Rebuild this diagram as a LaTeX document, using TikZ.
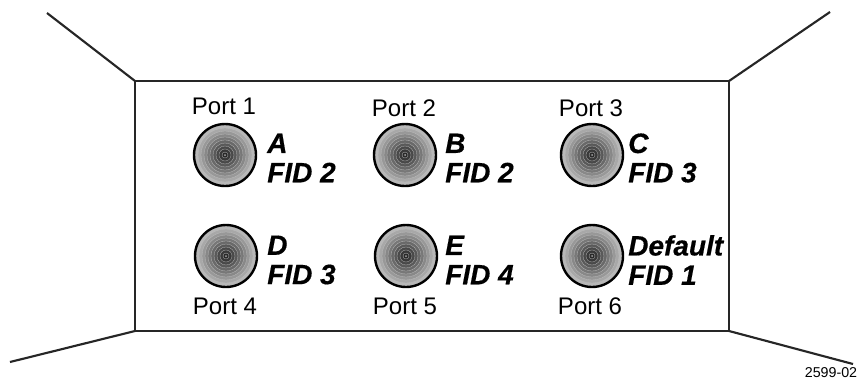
\documentclass[tikz,border=0pt]{standalone}
\usepackage{fontspec}
\setmainfont{Liberation Sans}[BoldItalicFeatures={FakeBold=0.5}]
\tikzset{>=stealth}
\tikzset{portname/.style={inner sep=0pt, font=\fontsize{18}{20}\selectfont},
    fidname/.style={inner sep=0pt, align=left, font=\fontsize{21}{22}\selectfont\bfseries\itshape},
    wall/.style={line width=1.6pt, black!85},
    discrim/.style={circle, draw, line width=1.8pt, minimum size=46.5pt, inner sep=0pt}}
\newcommand{\portdisc}[2]{%
    \foreach \r in {30,27,...,3} {
        \pgfmathsetmacro{\g}{90-62*(\r/30)}
        \fill[black!\g!white, draw=white!75!black, line width=0.2pt] (#1,#2) circle (\r);
    }
    \fill[black!35!white] (#1,#2) circle (1);
}
\begin{document}
\begin{tikzpicture}[x=0.75pt, y=-0.75pt]
    \useasboundingbox (0,0) rectangle (859,379);
    \coordinate (TL) at (135,81);
    \coordinate (TR) at (729,81);
    \coordinate (BR) at (729,331);
    \coordinate (BL) at (135,331);
    \coordinate (TLend) at (47,13);
    \coordinate (TRend) at (830,12);
    \coordinate (BLend) at (10,362);
    \coordinate (BRend) at (853,364);
    \draw[wall] (TL) -- (TR) -- (BR) -- (BL) -- cycle;
    \draw[wall] (TL) -- (TLend);
    \draw[wall] (TR) -- (TRend);
    \draw[wall] (BL) -- (BLend);
    \draw[wall] (BR) -- (BRend);
    \foreach \x/\y/\n/\p/\l/\f/\py/\tx/\ty in {225/155/A/1/A/2/106/267/158, 405/155/B/2/B/2/108/445/158, 592/155/C/3/C/3/108/628/158,
        226/256/D/4/D/3/306/267/260, 406/256/E/5/E/4/306/445/260} {
        \portdisc{\x}{\y}
        \node[discrim] (disc\n) at (\x,\y) {};
        \node[portname] (port\n) at (\x-1,\py) {Port \p};
        \node[fidname, anchor=west] (fid\n) at (\tx,\ty) {\l\\FID \f};
    }
    \portdisc{592}{256}
    \node[discrim] (discF) at (592,256) {};
    \node[portname] (portF) at (590,306) {Port 6};
    \node[fidname, anchor=west] (fidF) at (628,260) {Default\\FID 1};
    \node[inner sep=0pt, font=\fontsize{10.7}{12}\selectfont] (code) at (831,373) {2599-02};
\end{tikzpicture}
\end{document}
